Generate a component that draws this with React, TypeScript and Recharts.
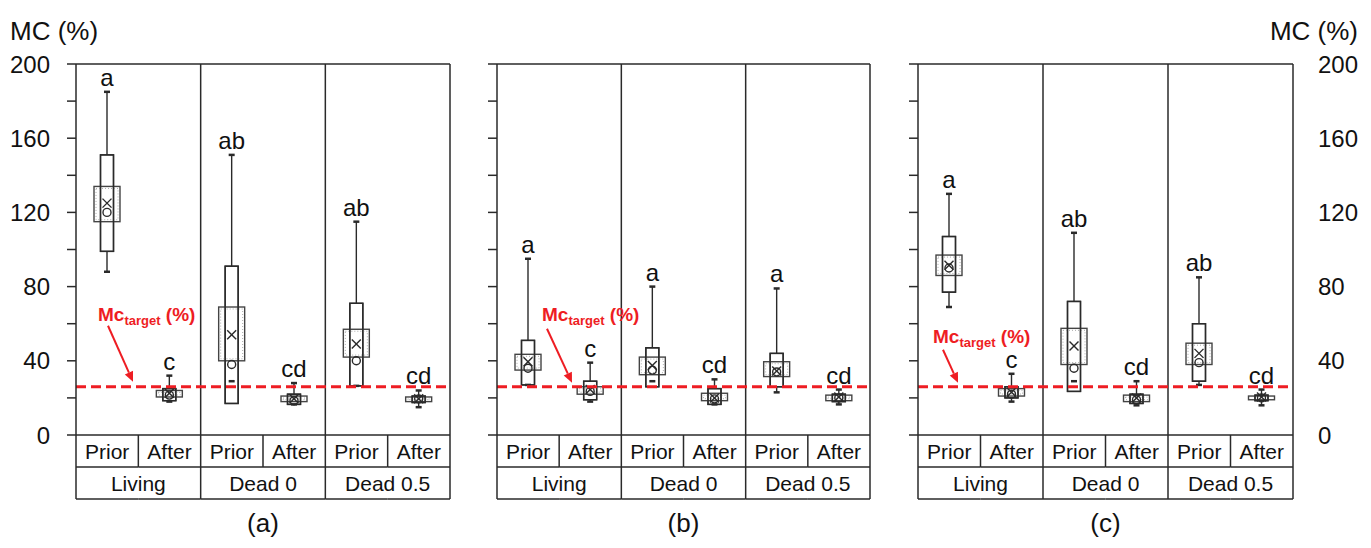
import React from 'react';
import { ComposedChart, Bar, XAxis, YAxis, CartesianGrid, ReferenceLine, Label } from 'recharts';

const GROUPS = ['Living', 'Dead 0', 'Dead 0.5'];
const PHASES = ['Prior', 'After'];
const Y_TICKS = [0, 20, 40, 60, 80, 100, 120, 140, 160, 180, 200];
const Y_LABELS = [0, 40, 80, 120, 160, 200];
const MC_TARGET = 26;

// order: Living Prior, Living After, Dead 0 Prior, Dead 0 After, Dead 0.5 Prior, Dead 0.5 After
// (a)
const A_MAX = [185, 32, 151, 28, 115, 24];
const A_Q3 = [151, 25, 91, 22, 71, 21];
const A_CI_HI = [134, 24, 69, 21, 57, 20.5];
const A_MEAN = [125, 22.5, 54, 19.5, 49, 19.5];
const A_MEDIAN = [120, 21.5, 38, 18.5, 40, 19.5];
const A_CI_LO = [115, 20.5, 40, 18, 42, 18];
const A_Q1 = [99, 18.5, 17, 16.5, 26.5, 17.5];
const A_MIN = [88, 18, 29, 16.5, 26.5, 15];
const A_LETTERS = ['a', 'c', 'ab', 'cd', 'ab', 'cd'];

// (b)
const B_MAX = [95, 39, 80, 30, 79, 24.5];
const B_Q3 = [51, 29, 47, 25, 44, 22];
const B_CI_HI = [43.5, 26, 42, 22.5, 39.5, 21.5];
const B_MEAN = [39.5, 24.5, 37.5, 20, 34.5, 20.5];
const B_MEDIAN = [36, 23.5, 35, 19.5, 34, 20];
const B_CI_LO = [35, 22, 32.5, 18.5, 31.5, 18.5];
const B_Q1 = [27, 19, 26, 16.5, 26, 18];
const B_MIN = [27, 18, 29, 16.5, 23, 16.5];
const B_LETTERS = ['a', 'c', 'a', 'cd', 'a', 'cd'];

// (c)
const C_MAX = [130, 33, 109, 29, 85, 24.5];
const C_Q3 = [107, 26, 72, 22, 60, 21.5];
const C_CI_HI = [97, 25, 57.5, 21.5, 49.5, 21];
const C_MEAN = [91.5, 23, 48, 20, 44, 20.5];
const C_MEDIAN = [90, 22, 36, 19, 39, 20];
const C_CI_LO = [86, 21, 38, 18, 38, 19];
const C_Q1 = [77, 20, 23.5, 17, 29, 18.5];
const C_MIN = [69, 18, 29, 16, 27, 16];
const C_LETTERS = ['a', 'c', 'ab', 'cd', 'ab', 'cd'];

const FONT = '"Liberation Sans", Arial, sans-serif';
const INK = '#2a2a2a';
const RED = '#ee1d23';

function buildRows(max: number[], q3: number[], ciHi: number[], mean: number[], median: number[],
  ciLo: number[], q1: number[], min: number[], letters: string[]) {
  const rows: any[] = [];
  GROUPS.forEach((g, gi) => {
    PHASES.forEach((p, pi) => {
      const i = gi * 2 + pi;
      rows.push({
        key: `${g}|${p}`,
        group: g,
        phase: p,
        range: [Math.min(min[i], q1[i]), max[i]],
        max: max[i], q3: q3[i], ciHi: ciHi[i], mean: mean[i], median: median[i],
        ciLo: ciLo[i], q1: q1[i], min: min[i], letter: letters[i],
      });
    });
  });
  return rows;
}

const ROWS_A = buildRows(A_MAX, A_Q3, A_CI_HI, A_MEAN, A_MEDIAN, A_CI_LO, A_Q1, A_MIN, A_LETTERS);
const ROWS_B = buildRows(B_MAX, B_Q3, B_CI_HI, B_MEAN, B_MEDIAN, B_CI_LO, B_Q1, B_MIN, B_LETTERS);
const ROWS_C = buildRows(C_MAX, C_Q3, C_CI_HI, C_MEAN, C_MEDIAN, C_CI_LO, C_Q1, C_MIN, C_LETTERS);

function BoxShape(props: any) {
  const { x, y, width, height, payload } = props;
  if (!payload || height == null) return null;
  const [lo, hi] = payload.range;
  const py = (v: number) => y + (height * (hi - v)) / (hi - lo);
  const cx = x + width / 2;
  const nw = 6.5;
  const ww = width / 2;
  const m = py(payload.mean);
  return (
    <g>
      <line x1={cx} x2={cx} y1={py(payload.max)} y2={py(lo)} stroke={INK} strokeWidth={1.4} />
      <rect x={cx - nw} y={py(payload.q3)} width={nw * 2} height={py(payload.q1) - py(payload.q3)} fill="#fff" stroke={INK} strokeWidth={1.4} />
      <rect x={cx - ww} y={py(payload.ciHi)} width={ww * 2} height={py(payload.ciLo) - py(payload.ciHi)} fill="none" stroke="#444" strokeWidth={1.4} />
      <rect x={cx - ww + 2} y={py(payload.ciHi) + 2} width={Math.max(ww * 2 - 4, 0)} height={Math.max(py(payload.ciLo) - py(payload.ciHi) - 4, 0)} fill="none" stroke="#aaa" strokeWidth={1} strokeDasharray="1 2" />
      <rect x={cx - nw} y={py(payload.q3)} width={nw * 2} height={py(payload.q1) - py(payload.q3)} fill="none" stroke={INK} strokeWidth={1.4} />
      <line x1={cx - 3} x2={cx + 3} y1={py(payload.max)} y2={py(payload.max)} stroke={INK} strokeWidth={2.5} />
      <line x1={cx - 3} x2={cx + 3} y1={py(payload.min)} y2={py(payload.min)} stroke={INK} strokeWidth={2.5} />
      <line x1={cx - 4.5} x2={cx + 4.5} y1={m - 4.5} y2={m + 4.5} stroke={INK} strokeWidth={1.4} />
      <line x1={cx - 4.5} x2={cx + 4.5} y1={m + 4.5} y2={m - 4.5} stroke={INK} strokeWidth={1.4} />
      <circle cx={cx} cy={py(payload.median)} r={4} fill="none" stroke={INK} strokeWidth={1.4} />
      <text x={cx} y={py(payload.max) - 6} textAnchor="middle" fontSize={24} fill="#111" fontFamily={FONT}>{payload.letter}</text>
    </g>
  );
}

function TableTick(props: any) {
  const { x, y, index, rows, band } = props;
  const row = rows[index];
  if (!row) return null;
  const h = band / 2;
  const rh = 32;
  const isPrior = index % 2 === 0;
  return (
    <g stroke={INK} strokeWidth={1.5}>
      <text x={x} y={y + rh / 2} dy="0.36em" textAnchor="middle" fontSize={21} fill="#111" stroke="none" fontFamily={FONT}>{row.phase}</text>
      {index === 0 && <line x1={x - h} x2={x - h} y1={y} y2={y + rh * 2} />}
      <line x1={x + h} x2={x + h} y1={y} y2={y + (isPrior ? rh : rh * 2)} />
      <line x1={x - h} x2={x + h} y1={y + rh} y2={y + rh} />
      <line x1={x - h} x2={x + h} y1={y + rh * 2} y2={y + rh * 2} />
      {isPrior && (
        <text x={x + h} y={y + rh * 1.5} dy="0.36em" textAnchor="middle" fontSize={21} fill="#111" stroke="none" fontFamily={FONT}>{row.group}</text>
      )}
    </g>
  );
}

function YTick(props: any) {
  const { x, y, payload, textAnchor, show } = props;
  const v = payload?.value;
  if (!show || v % 40 !== 0) return null;
  return (
    <text x={x} y={y} dy="0.355em" textAnchor={textAnchor} fontSize={24} fill="#111" fontFamily={FONT}>{v}</text>
  );
}

// vertical dividers between the three groups
const dividerX = ({ xAxis, offset }: any) => {
  const s = xAxis?.scale;
  if (typeof s === 'function' && typeof s.bandwidth === 'function') {
    return ['Living|After', 'Dead 0|After'].map((k) => s(k) + s.bandwidth());
  }
  return [1, 2].map((k) => offset.left + (offset.width * k) / 3);
};

type Annot = { tx: number; ty: number; ax1: number; ay1: number; ax2: number; ay2: number };

function TargetNote({ viewBox, a }: { viewBox: any; a: Annot }) {
  if (!viewBox) return null;
  const { x, y } = viewBox;
  const x1 = x + a.ax1, y1 = y + a.ay1, x2 = x + a.ax2, y2 = y + a.ay2;
  const ang = Math.atan2(y2 - y1, x2 - x1);
  const L = 10, W = 4.5;
  const bx = x2 - L * Math.cos(ang), by = y2 - L * Math.sin(ang);
  const pts = `${x2},${y2} ${bx - W * Math.sin(ang)},${by + W * Math.cos(ang)} ${bx + W * Math.sin(ang)},${by - W * Math.cos(ang)}`;
  return (
    <g>
      <text x={x + a.tx} y={y + a.ty} fill={RED} fontWeight="bold" fontSize={19} fontFamily={FONT}>
        Mc<tspan fontSize={13} dy={4}>target</tspan><tspan dy={-4}> (%)</tspan>
      </text>
      <line x1={x1} y1={y1} x2={bx} y2={by} stroke={RED} strokeWidth={2} />
      <polygon points={pts} fill={RED} />
    </g>
  );
}

type PanelProps = {
  rows: any[];
  title: string;
  left: number;
  width: number;
  leftW: number;
  rightW: number;
  leftLabels?: boolean;
  rightLabels?: boolean;
  note: Annot;
};

function Panel({ rows, title, left, width, leftW, rightW, leftLabels, rightLabels, note }: PanelProps) {
  const band = (width - leftW - rightW) / rows.length;
  return (
    <div style={{ position: 'absolute', left, top: 0, width, height: 548 }}>
      <ComposedChart width={width} height={548} data={rows} margin={{ top: 64, right: 0, bottom: 0, left: 0 }} barCategoryGap={0}>
        <CartesianGrid yAxisId="l" horizontal={false} vertical stroke={INK} strokeWidth={1.5} verticalCoordinatesGenerator={dividerX} />
        <XAxis
          dataKey="key"
          interval={0}
          height={113}
          tickSize={0}
          tickMargin={0}
          tickLine={false}
          axisLine={{ stroke: INK, strokeWidth: 1.5 }}
          tick={(p: any) => <TableTick {...p} rows={rows} band={band} />}
        >
          <Label
            content={({ viewBox }: any) => (
              <text x={viewBox.x + viewBox.width / 2} y={viewBox.y + 97} textAnchor="middle" fontSize={26} fill="#111" fontFamily={FONT}>{title}</text>
            )}
          />
        </XAxis>
        <YAxis
          yAxisId="l"
          orientation="left"
          width={leftW}
          domain={[0, 200]}
          ticks={Y_TICKS}
          interval={0}
          tickSize={9}
          tickMargin={17}
          tick={(p: any) => <YTick {...p} show={leftLabels} />}
          tickLine={{ stroke: INK, strokeWidth: 1.5 }}
          axisLine={{ stroke: INK, strokeWidth: 1.5 }}
        >
          {leftLabels && (
            <Label content={({ viewBox }: any) => (
              <text x={viewBox.x + 10} y={viewBox.y - 24} fontSize={26} fill="#111" fontFamily={FONT}>MC (%)</text>
            )} />
          )}
        </YAxis>
        <YAxis
          yAxisId="r"
          orientation="right"
          width={rightW}
          domain={[0, 200]}
          ticks={Y_TICKS}
          interval={0}
          tickSize={9}
          tickMargin={16}
          tick={(p: any) => <YTick {...p} show={false} />}
          tickLine={{ stroke: INK, strokeWidth: 1.5 }}
          axisLine={{ stroke: INK, strokeWidth: 1.5 }}
        >
          {rightLabels && (
            <Label content={({ viewBox }: any) => (
              <text x={viewBox.x + 65} y={viewBox.y - 24} textAnchor="end" fontSize={26} fill="#111" fontFamily={FONT}>MC (%)</text>
            )} />
          )}
        </YAxis>
        <Bar yAxisId="l" dataKey="range" barSize={26} shape={BoxShape} isAnimationActive={false} />
        <ReferenceLine yAxisId="l" y={200} stroke={INK} strokeWidth={1.5} />
        {rightLabels &&
          Y_LABELS.map((v) => (
            <ReferenceLine
              key={v}
              yAxisId="l"
              y={v}
              stroke="none"
              label={(p: any) =>
                p.viewBox ? (
                  <text x={p.viewBox.x + p.viewBox.width + 25} y={p.viewBox.y} dy="0.355em" fontSize={24} fill="#111" fontFamily={FONT}>{v}</text>
                ) : null
              }
            />
          ))}
        <ReferenceLine
          yAxisId="l"
          y={MC_TARGET}
          stroke={RED}
          strokeWidth={3}
          strokeDasharray="10 5"
          label={(p: any) => <TargetNote viewBox={p.viewBox} a={note} />}
        />
      </ComposedChart>
    </div>
  );
}

export default function App() {
  return (
    <div style={{ position: 'absolute', left: 0, top: 0, width: 1371, height: 548, background: '#fff', fontFamily: FONT }}>
      <Panel rows={ROWS_A} title="(a)" left={0} width={460} leftW={76} rightW={10} leftLabels
        note={{ tx: 22, ty: -66, ax1: 32, ay1: -61, ax2: 57, ay2: -5 }} />
      <Panel rows={ROWS_B} title="(b)" left={480} width={400} leftW={17} rightW={10}
        note={{ tx: 45, ty: -66, ax1: 50, ay1: -58, ax2: 75, ay2: -4 }} />
      <Panel rows={ROWS_C} title="(c)" left={900} width={471} leftW={18} rightW={78} rightLabels
        note={{ tx: 15, ty: -44, ax1: 25, ay1: -37, ax2: 40, ay2: -4 }} />
    </div>
  );
}
